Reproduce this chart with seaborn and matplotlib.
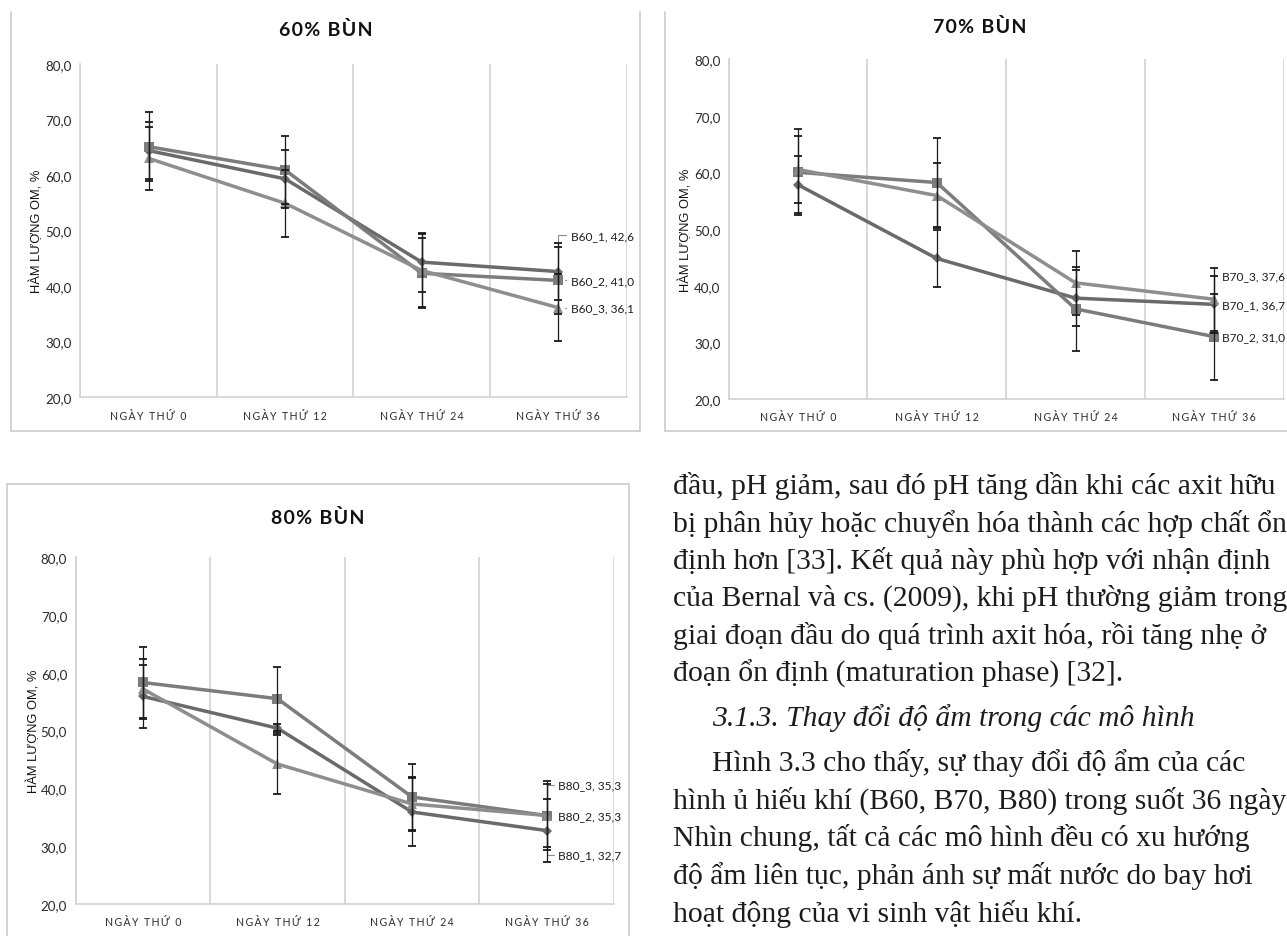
import pandas as pd
import matplotlib.pyplot as plt
import seaborn as sns
from matplotlib import font_manager
from matplotlib.lines import Line2D
from matplotlib.ticker import FuncFormatter

# dữ liệu
DAYS = ["NGÀY THỨ 0", "NGÀY THỨ 12", "NGÀY THỨ 24", "NGÀY THỨ 36"]

B60_1 = [64.4, 59.3, 44.3, 42.6]
B60_2 = [65.1, 60.9, 42.3, 41.0]
B60_3 = [63.0, 54.9, 42.8, 36.1]
B60_1_ERR = [5.1, 5.2, 5.3, 5.2]
B60_2_ERR = [6.2, 6.2, 6.3, 6.0]
B60_3_ERR = [5.7, 6.0, 6.6, 6.0]

B70_1 = [57.8, 44.8, 37.8, 36.7]
B70_2 = [60.0, 58.2, 35.9, 31.0]
B70_3 = [60.5, 55.9, 40.5, 37.6]
B70_1_ERR = [5.0, 5.0, 5.0, 5.0]
B70_2_ERR = [7.6, 7.8, 7.4, 7.6]
B70_3_ERR = [5.9, 5.7, 5.7, 5.6]

B80_1 = [55.9, 50.4, 35.9, 32.7]
B80_2 = [58.3, 55.5, 38.5, 35.3]
B80_3 = [57.2, 44.2, 37.3, 35.3]
B80_1_ERR = [5.4, 0.8, 5.9, 5.4]
B80_2_ERR = [6.1, 5.5, 5.7, 5.4]
B80_3_ERR = [5.2, 5.1, 4.7, 6.0]

TEXT_LINES = [
    "đầu, pH giảm, sau đó pH tăng dần khi các axit hữu",
    "bị phân hủy hoặc chuyển hóa thành các hợp chất ổn",
    "định hơn [33]. Kết quả này phù hợp với nhận định",
    "của Bernal và cs. (2009), khi pH thường giảm trong",
    "giai đoạn đầu do quá trình axit hóa, rồi tăng nhẹ ở",
    "đoạn ổn định (maturation phase) [32].",
    "3.1.3. Thay đổi độ ẩm trong các mô hình",
    "Hình 3.3 cho thấy, sự thay đổi độ ẩm của các",
    "hình ủ hiếu khí (B60, B70, B80) trong suốt 36 ngày",
    "Nhìn chung, tất cả các mô hình đều có xu hướng",
    "độ ẩm liên tục, phản ánh sự mất nước do bay hơi",
    "hoạt động của vi sinh vật hiếu khí.",
]

# font hẹp giống Calibri nếu có
names = {f.name for f in font_manager.fontManager.ttflist}
NARROW = "Liberation Sans Narrow" if "Liberation Sans Narrow" in names else "Lato"

sns.set_style("white")
plt.rcParams["font.family"] = [NARROW, "DejaVu Sans"]

W, H = 1287, 937
MARKERS = ["D", "s", "^"]
MSIZES = [5.5, 7.5, 7.5]
COLORS = ["#6a6a6a", "#7c7c7c", "#8e8e8e"]
GRID = "#d2d2d2"
TXT = "#2a2a2a"


def fx(x):
    return x / W


def fy(y):
    return 1 - y / H


def comma(v):
    return f"{v:.1f}".replace(".", ",")


def spaced(s, sep="\u2009"):
    return sep.join(s)


def draw_panel(ax, names, series, errors, label_dx, label_dy, ylab_x):
    df = pd.DataFrame({
        "day": DAYS * len(names),
        "om": sum(series, []),
        "series": [n for n in names for _ in DAYS],
    })
    sns.lineplot(data=df, x="day", y="om", hue="series", style="series",
                 markers=dict(zip(names, MARKERS)), dashes=False,
                 palette=dict(zip(names, COLORS)), sort=False,
                 lw=2.5, markeredgewidth=0, legend=False, ax=ax)
    for line, ms in zip(ax.lines, MSIZES):
        line.set_markersize(ms)
    for vals, errs in zip(series, errors):
        ax.errorbar(DAYS, vals, yerr=errs, fmt="none", ecolor="#1a1a1a",
                    elinewidth=0.9, capsize=2.7, capthick=1.3, zorder=5)

    last = len(DAYS) - 1
    for name, vals, dy in zip(names, series, label_dy):
        ax.annotate(f"{name}, {comma(vals[-1])}", xy=(last, vals[-1]),
                    xytext=(label_dx, dy), textcoords="offset points",
                    ha="left", va="center", fontsize=8.6, color="#1e1e1e",
                    arrowprops=dict(arrowstyle="-", color="#8a8a8a", lw=0.8,
                                    connectionstyle="angle,angleA=0,angleB=90,rad=0",
                                    shrinkA=1, shrinkB=5))

    ax.set_ylim(20, 80)
    ax.set_yticks(range(20, 81, 10))
    ax.yaxis.set_major_formatter(FuncFormatter(lambda v, p: comma(v)))
    ax.set_xlim(-0.5, len(DAYS) - 0.5)
    ax.set_xticks(range(len(DAYS)))
    ax.set_xticklabels([spaced(d) for d in DAYS], fontsize=7.6, color=TXT)
    ax.set_xticks([i - 0.5 for i in range(len(DAYS) + 1)], minor=True)
    ax.grid(which="minor", axis="x", color=GRID, lw=1.2)
    ax.tick_params(axis="both", which="both", length=0)
    ax.tick_params(axis="y", labelsize=9.6, labelcolor=TXT, pad=6)
    ax.tick_params(axis="x", pad=9)
    ax.set_xlabel("")
    ax.set_ylabel("HÀM LƯỢNG OM, %", family=["Liberation Sans", "DejaVu Sans"],
                  fontsize=9.3, color="#111111")
    pos = ax.get_position()
    ax.yaxis.set_label_coords(fx(ylab_x), (pos.y0 + pos.y1) / 2, transform=fig.transFigure)
    for s in ["top", "right"]:
        ax.spines[s].set_visible(False)
    for s in ["left", "bottom"]:
        ax.spines[s].set_color(GRID)
        ax.spines[s].set_linewidth(1.2)
    ax.set_facecolor("none")


fig = plt.figure(figsize=(W / 100, H / 100), dpi=100)


def box(x0, x1, y0, y1, top=True):
    segs = [([x0, x0], [y0, y1]), ([x1, x1], [y0, y1]), ([x0, x1], [y1, y1])]
    if top:
        segs.append(([x0, x1], [y0, y0]))
    for xs, ys in segs:
        fig.add_artist(Line2D([fx(v) for v in xs], [fy(v) for v in ys],
                              color="#d0d0d0", lw=1.3))


box(11, 640, 13, 432, top=False)
box(665, 1295, 13, 432, top=False)
box(7, 629, 485, 945)

ax1 = fig.add_axes([fx(80.4), fy(398), (626.5 - 80.4) / W, (398 - 65) / H])
ax2 = fig.add_axes([fx(728.7), fy(400), (1283.6 - 728.7) / W, (400 - 60) / H])
ax3 = fig.add_axes([fx(75.5), fy(905), (614 - 75.5) / W, (905 - 558) / H])

draw_panel(ax1, ["B60_1", "B60_2", "B60_3"], [B60_1, B60_2, B60_3],
           [B60_1_ERR, B60_2_ERR, B60_3_ERR], 9, [26, 0, 0], 43)
draw_panel(ax2, ["B70_1", "B70_2", "B70_3"], [B70_1, B70_2, B70_3],
           [B70_1_ERR, B70_2_ERR, B70_3_ERR], 5.5, [0, 0, 17], 692)
draw_panel(ax3, ["B80_1", "B80_2", "B80_3"], [B80_1, B80_2, B80_3],
           [B80_1_ERR, B80_2_ERR, B80_3_ERR], 8.5, [-17.5, 0, 22], 40)

title_kw = dict(ha="center", va="center", fontsize=14, fontweight="bold", color="#111111")
fig.text(fx(326), fy(30), spaced("60% BÙN", "\u200a"), **title_kw)
fig.text(fx(980), fy(27), spaced("70% BÙN", "\u200a"), **title_kw)
fig.text(fx(318), fy(518), spaced("80% BÙN", "\u200a"), **title_kw)

# đoạn văn bên phải
line_y = [485, 523, 560, 597, 635, 673, 717, 762, 800, 837, 875, 913]
for i, (s, y) in enumerate(zip(TEXT_LINES, line_y)):
    x = 712 if i in (6, 7) else 673
    fig.text(fx(x), fy(y + 9), s, ha="left", va="baseline", fontsize=21.3,
             family=["Liberation Serif", "DejaVu Serif"], color="#1c1c1c",
             style="italic" if i == 6 else "normal")

fig.savefig("out.png", dpi=100)
